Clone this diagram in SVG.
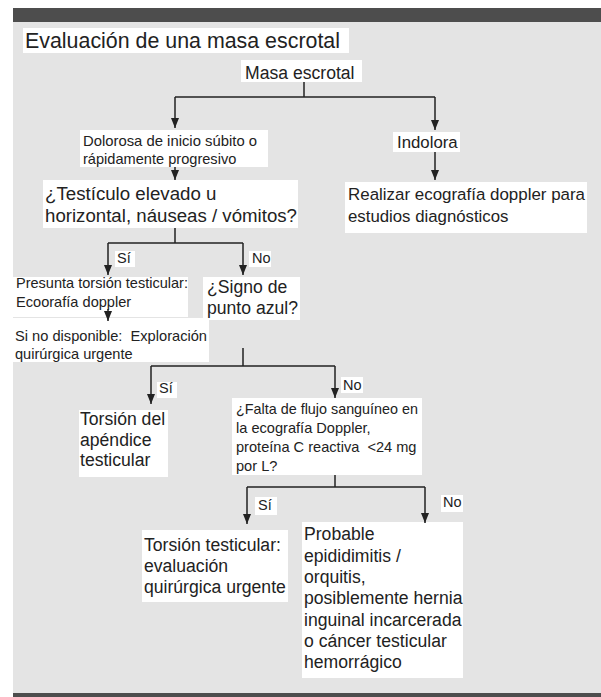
<svg xmlns="http://www.w3.org/2000/svg" width="601" height="697" viewBox="0 0 601 697">
<defs>
<marker id="ah" markerUnits="userSpaceOnUse" markerWidth="10" markerHeight="8" refX="10" refY="4" orient="auto" viewBox="0 0 10 8">
<path d="M0,0 L10,4 L0,8 Z" fill="#222"/>
</marker>
<style>
text{font-family:"Liberation Sans",Arial,sans-serif;fill:#222}
.box{fill:#fff}
.t22{font-size:21.5px}
.t18{font-size:17.6px}
.t19{font-size:18.7px}
.t17{font-size:16.8px}
.t15{font-size:14.6px}
.lab{font-size:14.5px}
.c{stroke:#222;stroke-width:1.5;fill:none}
.a{stroke:#222;stroke-width:1.5;fill:none}
</style>
</defs>
<rect x="0" y="0" width="601" height="697" fill="#fff"/>
<rect x="13" y="8" width="588" height="689" fill="#e4e4e4"/>
<rect x="13" y="8" width="588" height="14" fill="#4d4d4d"/>
<rect x="13" y="693" width="588" height="4" fill="#4d4d4d"/>

<g id="title">
<rect class="box" x="23" y="28" width="326" height="25"/>
<text class="t22" x="25" y="48" textLength="315" lengthAdjust="spacingAndGlyphs">Evaluación de una masa escrotal</text>
</g>
<g id="masa">
<rect class="box" x="241" y="60" width="121" height="22"/>
<text class="t18" x="245" y="79">Masa escrotal</text>
</g>
<g id="dolorosa">
<rect class="box" x="80" y="130" width="188" height="37"/>
<text class="t15" x="83" y="146" textLength="174" lengthAdjust="spacingAndGlyphs">Dolorosa de inicio súbito o</text>
<text class="t15" x="83" y="164">rápidamente progresivo</text>
</g>
<g id="indolora">
<rect class="box" x="393" y="132" width="67" height="20"/>
<text class="t17" x="397" y="148">Indolora</text>
</g>
<g id="testiculo">
<rect class="box" x="43" y="180" width="255" height="48"/>
<text class="t19" x="45" y="200">¿Testículo elevado u</text>
<text class="t19" x="45" y="222" textLength="252" lengthAdjust="spacingAndGlyphs">horizontal, náuseas / vómitos?</text>
</g>
<g id="realizar">
<rect class="box" x="345" y="182" width="242" height="51"/>
<text class="t17" x="348" y="200" textLength="237" lengthAdjust="spacingAndGlyphs">Realizar ecografía doppler para</text>
<text class="t17" x="348" y="222">estudios diagnósticos</text>
</g>
<g id="si1">
<rect class="box" x="115" y="251" width="20" height="16"/>
<text class="lab" x="117" y="263">Sí</text>
</g>
<g id="no1">
<rect class="box" x="249" y="251" width="22" height="16"/>
<text class="lab" x="252" y="263">No</text>
</g>
<g id="presunta">
<rect class="box" x="13" y="277" width="175" height="40"/>
<text class="t15" x="16" y="288" textLength="172" lengthAdjust="spacingAndGlyphs">Presunta torsión testicular:</text>
<text class="t15" x="16" y="307">Ecoorafía doppler</text>
</g>
<g id="sinodisp">
<rect class="box" x="13" y="318" width="196" height="44"/>
<text class="t15" x="15" y="341" xml:space="preserve" textLength="192" lengthAdjust="spacingAndGlyphs">Si no disponible:  Exploración</text>
<text class="t15" x="15" y="359">quirúrgica urgente</text>
</g>
<g id="signo">
<rect class="box" x="203" y="277" width="97" height="43"/>
<text class="t18" x="207" y="293">¿Signo de</text>
<text class="t18" x="207" y="314">punto azul?</text>
</g>
<g id="si2">
<rect class="box" x="157" y="382" width="20" height="16"/>
<text class="lab" x="159" y="393">Sí</text>
</g>
<g id="no2">
<rect class="box" x="341" y="377" width="22" height="16"/>
<text class="lab" x="343" y="390">No</text>
</g>
<g id="torsionapendice">
<rect class="box" x="79" y="410" width="89" height="67"/>
<text class="t18" x="80" y="425">Torsión del</text>
<text class="t18" x="80" y="446">apéndice</text>
<text class="t18" x="80" y="466">testicular</text>
</g>
<g id="falta">
<rect class="box" x="232" y="398" width="190" height="77"/>
<text class="t15" x="236" y="414" textLength="182" lengthAdjust="spacingAndGlyphs">¿Falta de flujo sanguíneo en</text>
<text class="t15" x="236" y="433">la ecografía Doppler,</text>
<text class="t15" x="236" y="452" xml:space="preserve">proteína C reactiva  &lt;24 mg</text>
<text class="t15" x="236" y="471">por L?</text>
</g>
<g id="si3">
<rect class="box" x="255" y="497" width="22" height="18"/>
<text class="lab" x="258" y="510">Sí</text>
</g>
<g id="no3">
<rect class="box" x="441" y="495" width="22" height="17"/>
<text class="lab" x="443" y="507">No</text>
</g>
<g id="torsiontesticular">
<rect class="box" x="142" y="530" width="146" height="72"/>
<text class="t18" x="144" y="551">Torsión testicular:</text>
<text class="t18" x="144" y="572">evaluación</text>
<text class="t18" x="144" y="593">quirúrgica urgente</text>
</g>
<g id="probable">
<rect class="box" x="302" y="522" width="161" height="156"/>
<text class="t18" x="304" y="540">Probable</text>
<text class="t18" x="304" y="561.5">epididimitis /</text>
<text class="t18" x="304" y="583">orquitis,</text>
<text class="t18" x="304" y="604">posiblemente hernia</text>
<text class="t18" x="304" y="625.5">inguinal incarcerada</text>
<text class="t18" x="304" y="647">o cáncer testicular</text>
<text class="t18" x="304" y="668">hemorrágico</text>
</g>

<g id="connectors">
<path class="c" d="M304,82 V97 M175,97 H435 M175,228 V243 M108,243 H243 M243,348 V366 M151,366 H335 M335,475 V487 M247,487 H425"/>
<path class="a" d="M175,97 V128" marker-end="url(#ah)"/>
<path class="a" d="M435,97 V130" marker-end="url(#ah)"/>
<path class="a" d="M435,152 V180" marker-end="url(#ah)"/>
<path class="a" d="M175,167 V180" marker-end="url(#ah)"/>
<path class="a" d="M108,243 V275" marker-end="url(#ah)"/>
<path class="a" d="M243,243 V275" marker-end="url(#ah)"/>
<path class="a" d="M108,309 V321" marker-end="url(#ah)"/>
<path class="a" d="M151,366 V404" marker-end="url(#ah)"/>
<path class="a" d="M335,366 V398" marker-end="url(#ah)"/>
<path class="a" d="M247,487 V524" marker-end="url(#ah)"/>
<path class="a" d="M425,487 V523" marker-end="url(#ah)"/>
</g>
</svg>
